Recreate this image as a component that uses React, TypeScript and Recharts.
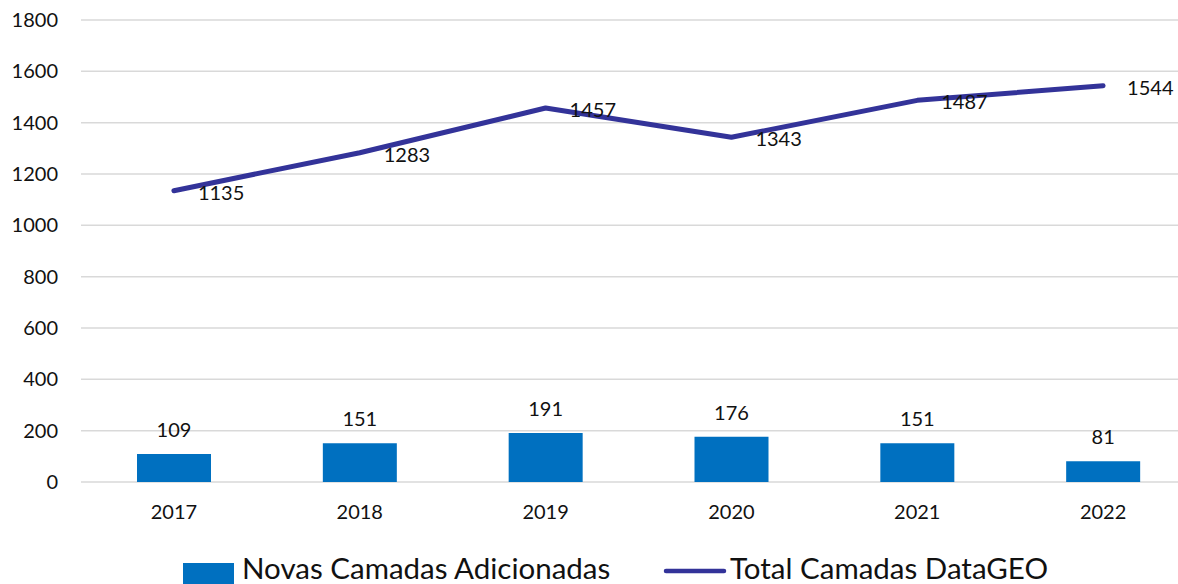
import React from 'react';
import { ComposedChart, Bar, Line, XAxis, YAxis, CartesianGrid, Legend, LabelList } from 'recharts';

const categories = ['2017', '2018', '2019', '2020', '2021', '2022'];
const novasCamadas = [109, 151, 191, 176, 151, 81];
const totalCamadas = [1135, 1283, 1457, 1343, 1487, 1544];
const yTicks = [0, 200, 400, 600, 800, 1000, 1200, 1400, 1600, 1800];
const seriesNames = ['Novas Camadas Adicionadas', 'Total Camadas DataGEO'];

const data = categories.map((c, i) => ({ year: c, novas: novasCamadas[i], total: totalCamadas[i] }));

const BAR_COLOR = '#0070C0';
const LINE_COLOR = '#333399';
const TEXT_COLOR = '#111111';
const FONT = 'Lato, "Open Sans", sans-serif';

function getBox(props: any) {
  const vb = props.viewBox || {};
  const x = typeof props.x === 'number' ? props.x : vb.x;
  const y = typeof props.y === 'number' ? props.y : vb.y;
  const width = typeof props.width === 'number' ? props.width : vb.width || 0;
  return { x, y, width };
}

function BarLabel(props: any) {
  const { x, y, width } = getBox(props);
  return (
    <text x={x + width / 2} y={y - 25} textAnchor="middle" dominantBaseline="central" fontSize={20} fill={TEXT_COLOR} fontFamily={FONT}>
      {props.value}
    </text>
  );
}

function LineLabel(props: any) {
  const { x, y } = getBox(props);
  return (
    <text x={x + 24} y={y + 1} textAnchor="start" dominantBaseline="central" fontSize={20} fill={TEXT_COLOR} fontFamily={FONT}>
      {props.value}
    </text>
  );
}

function LegendContent() {
  return (
    <div style={{ position: 'relative', width: 1178, height: 30, fontFamily: FONT, color: TEXT_COLOR }}>
      <div style={{ position: 'absolute', left: 183, top: 9, width: 51, height: 24, background: BAR_COLOR }} />
      <div style={{ position: 'absolute', left: 242, top: -1, fontSize: 29.5, lineHeight: '30px', whiteSpace: 'nowrap' }}>{seriesNames[0]}</div>
      <svg style={{ position: 'absolute', left: 660, top: 0 }} width={70} height={30}>
        <line x1={6} y1={17} x2={64} y2={17} stroke={LINE_COLOR} strokeWidth={4.5} strokeLinecap="round" />
      </svg>
      <div style={{ position: 'absolute', left: 730, top: -1, fontSize: 29.5, lineHeight: '30px', whiteSpace: 'nowrap' }}>{seriesNames[1]}</div>
    </div>
  );
}

export default function App() {
  return (
    <div style={{ position: 'absolute', left: 0, top: 0, width: 1178, height: 584, overflow: 'hidden', background: '#fff', fontFamily: FONT }}>
      <ComposedChart width={1210} height={600} data={data} margin={{ top: 20, right: 14, left: 0, bottom: 48 }}>
        <CartesianGrid vertical={false} stroke="#d9d9d9" strokeWidth={1.5} />
        <XAxis
          dataKey="year"
          axisLine={false}
          tickLine={false}
          tickSize={0}
          tickMargin={23}
          height={40}
          tick={{ fontSize: 20, fill: TEXT_COLOR, fontFamily: FONT }}
        />
        <YAxis
          domain={[0, 1800]}
          ticks={yTicks}
          axisLine={false}
          tickLine={false}
          tickSize={0}
          tickMargin={23}
          width={81}
          interval={0}
          tick={{ fontSize: 20, fill: TEXT_COLOR, fontFamily: FONT }}
        />
        <Legend
          verticalAlign="bottom"
          content={<LegendContent />}
          wrapperStyle={{ top: 554, bottom: 'auto', left: 0, width: 1178, height: 30 }}
        />
        <Bar dataKey="novas" name={seriesNames[0]} fill={BAR_COLOR} barSize={74} isAnimationActive={false}>
          <LabelList dataKey="novas" content={<BarLabel />} />
        </Bar>
        <Line
          dataKey="total"
          name={seriesNames[1]}
          stroke={LINE_COLOR}
          strokeWidth={5}
          strokeLinecap="round"
          strokeLinejoin="round"
          dot={false}
          activeDot={false}
          isAnimationActive={false}
        >
          <LabelList dataKey="total" content={<LineLabel />} />
        </Line>
      </ComposedChart>
    </div>
  );
}
